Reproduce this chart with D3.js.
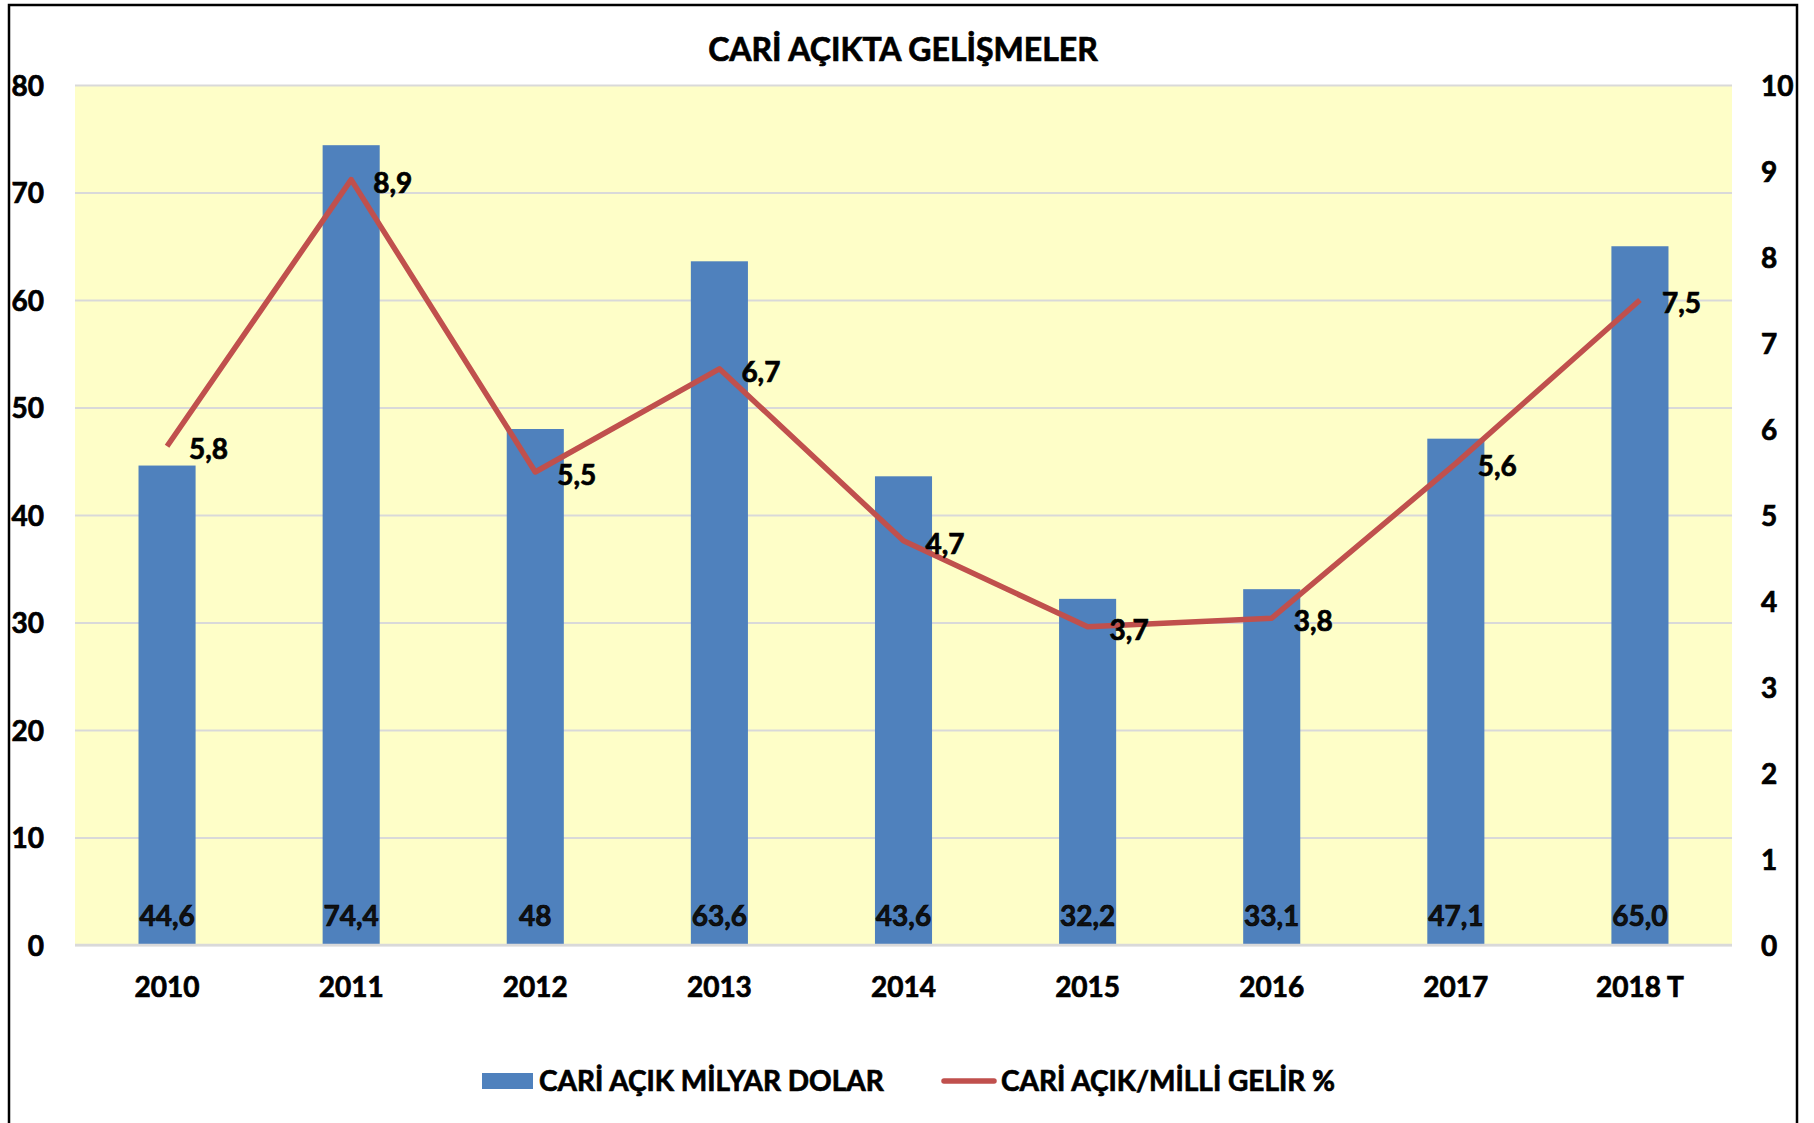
<!DOCTYPE html>
<html>
<head>
<meta charset="utf-8">
<script src="https://cdnjs.cloudflare.com/ajax/libs/d3/7.8.5/d3.min.js"></script>
<style>
  body { margin: 0; background: #fff; }
  svg text { font-family: Lato, "Open Sans", sans-serif; font-weight: bold; fill: #000; stroke: #000; stroke-width: 0.7px; }
</style>
</head>
<body>
<div id="chart"></div>
<script>
//DATA
var years = ['2010', '2011', '2012', '2013', '2014', '2015', '2016', '2017', '2018 T'];
var deficitBillion = [44.6, 74.4, 48, 63.6, 43.6, 32.2, 33.1, 47.1, 65.0];
var deficitLabels = ['44,6', '74,4', '48', '63,6', '43,6', '32,2', '33,1', '47,1', '65,0'];
var deficitGdp = [5.8, 8.9, 5.5, 6.7, 4.7, 3.7, 3.8, 5.6, 7.5];
var leftTicks = [0, 10, 20, 30, 40, 50, 60, 70, 80];
var rightTicks = [0, 1, 2, 3, 4, 5, 6, 7, 8, 9, 10];
var title = 'CARİ AÇIKTA GELİŞMELER';
var legendNames = ['CARİ AÇIK MİLYAR DOLAR', 'CARİ AÇIK/MİLLİ GELİR %'];

//SET UP
var width = 1814,
    height = 1123;

var plot = {left: 75, right: 1732, top: 85, bottom: 945};

var svg = d3.select('#chart').append('svg')
    .attr('width', width)
    .attr('height', height);

//outer frame
svg.append('rect')
    .attr('x', 9)
    .attr('y', 5)
    .attr('width', 1788)
    .attr('height', 1130)
    .attr('fill', 'none')
    .attr('stroke', '#000')
    .attr('stroke-width', 2.5);

var x = d3.scaleBand()
    .domain(years)
    .range([plot.left, plot.right])
    .paddingInner(0.69)
    .paddingOuter(0.345);

var yLeft = d3.scaleLinear()
    .domain([0, 80])
    .range([plot.bottom, plot.top]);

var yRight = d3.scaleLinear()
    .domain([0, 10])
    .range([plot.bottom, plot.top]);

//plot background
svg.append('rect')
    .attr('x', plot.left)
    .attr('y', plot.top)
    .attr('width', plot.right - plot.left)
    .attr('height', plot.bottom - plot.top)
    .attr('fill', '#FEFEC8');

//gridlines
svg.append('g')
    .attr('transform', 'translate(' + plot.left + ',0)')
    .call(d3.axisLeft(yLeft).tickValues(leftTicks).tickSize(-(plot.right - plot.left)).tickFormat(''))
    .call(function(g) { g.select('.domain').remove(); })
    .selectAll('line')
    .attr('stroke', '#D9D9D9')
    .attr('stroke-width', 2);

//left axis labels
svg.append('g')
    .attr('transform', 'translate(44,0)')
    .call(d3.axisLeft(yLeft).tickValues(leftTicks).tickSize(0).tickPadding(0))
    .call(function(g) { g.select('.domain').remove(); })
    .selectAll('text')
    .attr('dy', '0.36em')
    .style('font-size', '28px');

//right axis labels
svg.append('g')
    .attr('transform', 'translate(1761,0)')
    .call(d3.axisRight(yRight).tickValues(rightTicks).tickSize(0).tickPadding(0))
    .call(function(g) { g.select('.domain').remove(); })
    .selectAll('text')
    .attr('dy', '0.36em')
    .style('font-size', '28px');

//x axis labels
svg.append('g')
    .attr('transform', 'translate(0,' + plot.bottom + ')')
    .call(d3.axisBottom(x).tickSize(0).tickPadding(42))
    .call(function(g) { g.select('.domain').remove(); })
    .selectAll('text')
    .attr('dy', '0.36em')
    .style('font-size', '28px');

//BARS
svg.selectAll('.bar')
    .data(deficitBillion)
  .enter().append('rect')
    .attr('class', 'bar')
    .attr('x', function(d, i) { return x(years[i]); })
    .attr('y', function(d) { return yLeft(d); })
    .attr('width', x.bandwidth())
    .attr('height', function(d) { return yLeft(0) - yLeft(d); })
    .attr('fill', '#4F81BD');

//baseline
svg.append('line')
    .attr('x1', plot.left)
    .attr('x2', plot.right)
    .attr('y1', plot.bottom)
    .attr('y2', plot.bottom)
    .attr('stroke', '#D9D9D9')
    .attr('stroke-width', 2.5);

//bar labels
svg.selectAll('.bar-label')
    .data(deficitLabels)
  .enter().append('text')
    .attr('class', 'bar-label')
    .attr('x', function(d, i) { return x(years[i]) + x.bandwidth() / 2; })
    .attr('y', 916)
    .attr('dy', '0.36em')
    .attr('text-anchor', 'middle')
    .style('font-size', '28px')
    .style('fill', '#111')
    .text(function(d) { return d; });

//LINE
var line = d3.line()
    .x(function(d, i) { return x(years[i]) + x.bandwidth() / 2; })
    .y(function(d) { return yRight(d); });

svg.append('path')
    .datum(deficitGdp)
    .attr('d', line)
    .attr('fill', 'none')
    .attr('stroke', '#C0504D')
    .attr('stroke-width', 5.5)
    .attr('stroke-linejoin', 'round');

//line labels
svg.selectAll('.line-label')
    .data(deficitGdp)
  .enter().append('text')
    .attr('class', 'line-label')
    .attr('x', function(d, i) { return x(years[i]) + x.bandwidth() / 2 + 22; })
    .attr('y', function(d) { return yRight(d) + 3; })
    .attr('dy', '0.36em')
    .style('font-size', '28px')
    .text(function(d) { return String(d.toFixed(1)).replace('.', ','); });

//TITLE
svg.append('text')
    .attr('x', 903)
    .attr('y', 49)
    .attr('dy', '0.36em')
    .attr('text-anchor', 'middle')
    .style('font-size', '32px')
    .text(title);

//LEGEND
var legend = svg.append('g');

legend.append('rect')
    .attr('x', 482)
    .attr('y', 1073)
    .attr('width', 51)
    .attr('height', 16)
    .attr('fill', '#4F81BD');

legend.append('text')
    .attr('x', 539)
    .attr('y', 1081)
    .attr('dy', '0.36em')
    .style('font-size', '28px')
    .text(legendNames[0]);

legend.append('line')
    .attr('x1', 944)
    .attr('x2', 994)
    .attr('y1', 1081)
    .attr('y2', 1081)
    .attr('stroke', '#C0504D')
    .attr('stroke-width', 5.5)
    .attr('stroke-linecap', 'round');

legend.append('text')
    .attr('x', 1001)
    .attr('y', 1081)
    .attr('dy', '0.36em')
    .style('font-size', '28px')
    .text(legendNames[1]);
</script>
</body>
</html>
